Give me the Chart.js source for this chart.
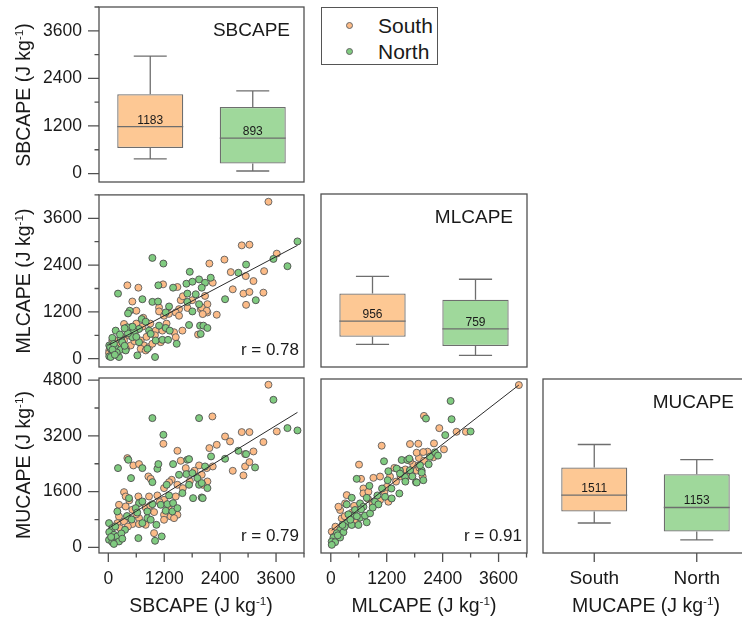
<!DOCTYPE html>
<html>
<head>
<meta charset="utf-8">
<script src="https://cdn.jsdelivr.net/npm/chart.js@4.4.0/dist/chart.umd.min.js"></script>
<style>
  html, body { margin: 0; padding: 0; background: #fff; overflow: hidden; }
  #wrap { position: relative; width: 742px; height: 622px; overflow: hidden;
          font-family: 'Liberation Sans', Arial, sans-serif; color: #1a1a1a; }
  #wrap canvas { position: absolute; }
  .ttl { position: absolute; white-space: nowrap; font-size: 19.5px; line-height: 1;
         transform: translate(-50%, -50%); }
  .ttl.v { transform: translate(-50%, -50%) rotate(-90deg); }
  .ttl sup { font-size: 0.6em; vertical-align: 0; position: relative; top: -0.62em; }
  .legend { position: absolute; left: 321px; top: 7px; width: 117px; height: 58px;
            border: 1.3px solid #555; box-sizing: border-box; }
  .legend .mk { position: absolute; width: 5px; height: 5px; border-radius: 50%;
                border: 0.8px solid #666; }
  .legend .lb { position: absolute; font-size: 21px; line-height: 1; transform: translateY(-50%); }
</style>
</head>
<body>
<div id="wrap">
  <canvas id="cSB" width="310" height="190" style="left:0;top:0"></canvas>
  <canvas id="cSBML" width="310" height="182" style="left:0;top:190px"></canvas>
  <canvas id="cSBMU" width="310" height="250" style="left:0;top:372px"></canvas>
  <canvas id="cML" width="220" height="182" style="left:315px;top:190px"></canvas>
  <canvas id="cMLMU" width="220" height="250" style="left:315px;top:372px"></canvas>
  <canvas id="cMU" width="220" height="250" style="left:537px;top:372px"></canvas>

  <div class="legend">
    <div class="mk" style="left:23.5px;top:13.5px;background:#FCBB87"></div>
    <div class="lb" style="left:56px;top:17px">South</div>
    <div class="mk" style="left:23.5px;top:39.5px;background:#80CB80"></div>
    <div class="lb" style="left:56px;top:43px">North</div>
  </div>

  <div class="ttl v" style="left:24px;top:95px">SBCAPE (J kg<sup>-1</sup>)</div>
  <div class="ttl v" style="left:24px;top:281px">MLCAPE (J kg<sup>-1</sup>)</div>
  <div class="ttl v" style="left:24px;top:465px">MUCAPE (J kg<sup>-1</sup>)</div>
  <div class="ttl" style="left:201px;top:606px">SBCAPE (J kg<sup>-1</sup>)</div>
  <div class="ttl" style="left:424px;top:606px">MLCAPE (J kg<sup>-1</sup>)</div>
  <div class="ttl" style="left:646px;top:606px">MUCAPE (J kg<sup>-1</sup>)</div>
</div>

<script>
// ---- groups ----
const groups = ['South', 'North'];

// ---- box statistics: [lower whisker, Q1, median, Q3, upper whisker] ----
const sbSouthBox = [370, 645, 1183, 2000, 2960];
const sbNorthBox = [65, 255, 893, 1680, 2085];
const mlSouthBox = [365, 560, 956, 1660, 2100];
const mlNorthBox = [85, 320, 759, 1505, 2025];
const muSouthBox = [705, 1035, 1511, 2305, 2970];
const muNorthBox = [220, 460, 1153, 2110, 2535];

// ---- SBCAPE vs MLCAPE ----
const sbMlSouth = [
  [409,1881],[645,1821],[1175,1906],[1483,1838],[516,1466],[1554,1500],[1089,1313],[1518,1271],
  [602,1229],[1089,1212],[1447,1186],[1196,1101],[1518,1101],[1984,1271],[337,890],[480,805],
  [588,720],[731,822],[444,593],[1017,720],[1160,720],[1411,678],[1590,720],[1926,619],[1447,551],
  [337,466],[158,466],[480,339],[695,466],[767,339],[874,297],[695,254],[946,382],[802,212],
  [1125,424],[86,466],[20,212],[15,144],
  [3437,4024],[2864,2906],[3029,2923],[3616,2694],[2169,2440],[2492,2541],[2628,2220],[2950,2118],
  [3115,1991],[3344,2245],[2671,1779],[2900,1669],[3029,1711],[3329,1694],[2957,1381],[2327,1127],
  [2127,1398],[2127,1186],[2241,1948],[2076,1610],[2005,1313],[2112,1229],[2026,1144],
  [200,330],[280,560],[560,450],[600,900],[820,560],[900,900],[1000,600],[1250,900],[1300,1150],
  [1700,1300],[1800,1500],[1600,1600],[750,1050],[380,250]
];
const sbMlNorth = [
  [946,2584],[1182,2440],[1748,2228],[1074,1881],[1390,1821],[1676,1923],[1805,1974],[1948,2033],
  [1697,1669],[1876,1652],[208,1669],[731,1525],[946,1457],[1067,1466],[1304,1339],[459,1229],
  [423,1161],[1232,1186],[1805,1212],[1948,1398],[1697,1457],[716,1017],[802,949],[409,805],
  [659,763],[874,720],[552,704],[158,720],[86,534],[265,509],[516,551],[1089,847],[1232,788],
  [1318,720],[910,636],[1017,466],[1160,483],[1282,483],[1468,382],[1733,864],[1969,847],[20,339],
  [51,254],[158,280],[265,229],[373,212],[86,127],[194,85],[20,60],[51,43],[229,43],[838,254],
  [623,85],[1003,43],[659,424],
  [4060,3007],[3845,2372],[3544,2558],[2957,2414],[2792,2203],[2506,1525],[3165,1500],[2198,2076],
  [2076,1948],[2005,1821],[2041,847],[2127,788],[1983,636],
  [40,300],[120,380],[180,160],[300,420],[350,330],[90,230],[140,100],[420,650],[520,820],
  [600,560],[350,780],[250,620]
];
const sbMlFit = [[0,344],[4060,2906]];

// ---- SBCAPE vs MUCAPE ----
const sbMuSouth = [
  [1182,2973],[1483,2772],[409,2562],[537,2352],[659,2390],[860,2036],[910,1969],[1361,1940],
  [1554,2485],[1662,2275],[1948,2352],[1304,1873],[1196,1701],[1483,1797],[337,1586],[373,1462],
  [645,1462],[874,1462],[1053,1491],[1447,1462],[1196,1366],[229,1223],[373,1175],[516,1080],
  [802,1146],[982,1013],[1196,936],[1340,888],[1483,936],[229,888],[444,840],[659,840],[194,697],
  [337,745],[516,669],[659,669],[802,649],[1196,793],[1411,840],[982,410],
  [3437,4666],[2234,3757],[2864,3308],[3029,3308],[3616,3327],[2506,3183],[2613,3040],[2327,2944],
  [2169,2849],[3115,2753],[2936,2677],[3329,3022],[2936,2323],[3029,2447],[2671,2198],[2900,2065],
  [2241,2323],[2112,2275],[2005,2084],[2127,1892],[2026,1797],
  [250,550],[420,600],[600,950],[900,1200],[1100,1300],[700,1300],[1300,1100],[1600,1700],
  [1750,1900],[1850,2200],[450,1350]
];
const sbMuNorth = [
  [946,3709],[1948,3709],[1182,3231],[208,2275],[430,2514],[731,2275],[1053,2256],[1074,2390],
  [1390,2390],[1697,2514],[1733,2533],[487,1988],[946,1873],[1253,1797],[1518,2084],[1676,2103],
  [1805,2131],[1912,1988],[1948,1797],[1733,1797],[444,1414],[1304,1491],[1590,1558],[1819,1414],
  [2005,1433],[659,1271],[731,1319],[588,1127],[838,1032],[946,1242],[1125,1223],[1268,1242],
  [1390,1271],[1232,1051],[1375,1032],[1483,1127],[194,1032],[838,840],[910,793],[1032,649],
  [15,697],[86,554],[358,506],[20,439],[122,362],[194,315],[15,219],[86,152],[229,171],[645,267],
  [1003,190],[1146,315],[731,697],
  [3544,4235],[3845,3423],[4060,3356],[2792,2772],[2957,2677],[3150,2294],[2506,2543],[2205,2610],
  [2076,2323],[2005,1845],[2127,1701],[2026,1414],
  [60,300],[150,600],[280,400],[400,900],[500,800],[620,1000],[120,100],[300,250]
];
const sbMuFit = [[0,545],[4060,3874]];

// ---- MLCAPE vs MUCAPE ----
const mlMuSouth = [
  [4035,4685],[1999,3796],[2328,3442],[2699,3337],[2899,3337],[2214,3002],[2428,2830],[2078,2763],
  [1892,2581],[1699,2983],[1092,2935],[606,2390],[649,1979],[914,2008],[1057,2046],[1364,2295],
  [1271,2046],[1971,2046],[700,1701],[342,1510],[307,1271],[200,1080],[700,1558],[807,1606],
  [1057,1366],[164,1175],[235,840],[557,745],[1236,1319],[21,458],[71,315],[1878,2992],[1843,2734],
  [1985,2753],[1771,2390],[1878,2362],[1628,2046],[1842,2218],[450,1000],[900,1250],[1150,1600],
  [1500,2050],[600,1150],[380,700],[100,600],[250,500],[1600,2250],
  [1400,1900],[1700,2500],[2000,2500],[2200,2600],[1200,1750],[800,1400],[500,1200],[300,900],[1900,2300]
];
const mlMuNorth = [
  [2571,4226],[2042,3719],[2592,3700],[3000,3346],[2456,3241],[2235,2744],[2128,2620],[1142,2486],
  [556,1979],[1235,2199],[1521,2524],[1642,2524],[1485,2218],[1699,2218],[1828,1883],[1950,2218],
  [828,1778],[1221,1940],[450,1433],[342,1242],[771,1433],[950,1319],[1021,1242],[628,1271],
  [700,1175],[521,1080],[485,917],[628,860],[735,917],[843,984],[378,955],[342,697],[450,649],
  [593,649],[771,726],[1164,1462],[1307,1414],[1471,1558],[200,506],[128,410],[271,439],[57,286],
  [20,171],[93,152],[21,75],[200,286],[1414,2275],[1685,2562],[1700,2227],[1914,2371],[1950,2160],
  [1592,2036],[1485,2131],[1985,1940],[1843,1873],[150,350],[300,600],[420,800],[560,900],[900,1150],
  [1100,1700],[1300,1700],[1600,1900],[1750,2050],[2100,2400],[2300,2650],[1000,1500],[650,1100],[250,650]
];
const mlMuFit = [[20,495],[4035,4685]];

// ---- styling ----
const FONT = "'Liberation Sans', Arial, sans-serif";
const INK = '#1a1a1a';
const FRAME = '#505050';
const SOUTH_PT = '#FCBB87', NORTH_PT = '#80CB80';
const SOUTH_BOX = '#FDC894', NORTH_BOX = '#9FD89B';

// Frame, tick marks, whiskers and panel annotations
const panelPlugin = {
  id: 'panel',
  afterDatasetsDraw(chart, args, o) {
    const ctx = chart.ctx, a = chart.chartArea;
    ctx.save();
    if (o.boxes) {
      const meta = chart.getDatasetMeta(0);
      const ys = chart.scales.y;
      o.boxes.forEach((st, i) => {
        const bar = meta.data[i];
        const cx = bar.x, hw = bar.width / 2, cw = hw / 2;
        const p = st.map(v => ys.getPixelForValue(v));
        ctx.strokeStyle = '#6e6e6e';
        ctx.lineWidth = 1.3;
        ctx.beginPath();
        ctx.moveTo(cx, p[3]); ctx.lineTo(cx, p[4]);
        ctx.moveTo(cx - cw, p[4]); ctx.lineTo(cx + cw, p[4]);
        ctx.moveTo(cx, p[1]); ctx.lineTo(cx, p[0]);
        ctx.moveTo(cx - cw, p[0]); ctx.lineTo(cx + cw, p[0]);
        ctx.moveTo(cx - hw, p[2]); ctx.lineTo(cx + hw, p[2]);
        ctx.stroke();
        ctx.fillStyle = INK;
        ctx.font = '12px ' + FONT;
        ctx.textAlign = 'center';
        ctx.textBaseline = 'alphabetic';
        ctx.fillText(String(st[2]), cx, p[2] - 3);
      });
    }
    ctx.strokeStyle = FRAME;
    ctx.lineWidth = 1.3;
    ctx.strokeRect(a.left, a.top, a.right - a.left, a.bottom - a.top);
    (o.ticks || []).forEach(t => {
      const sc = chart.scales[t.axis];
      const vals = [];
      if (t.categories) {
        t.categories.forEach((c, i) => vals.push([i, true]));
      } else {
        for (let v = 0; v <= sc.max; v += t.step) vals.push([v, Math.round(v / t.step) % 2 === 0]);
      }
      ctx.beginPath();
      vals.forEach(([v, major]) => {
        const len = major ? t.len : 4.5;
        const px = sc.getPixelForValue(v);
        if (t.axis === 'y') { ctx.moveTo(a.left, px); ctx.lineTo(a.left - len, px); }
        else { ctx.moveTo(px, a.bottom); ctx.lineTo(px, a.bottom + len); }
      });
      ctx.stroke();
    });
    ctx.fillStyle = INK;
    if (o.title) {
      ctx.font = '19px ' + FONT;
      ctx.textAlign = 'right';
      ctx.textBaseline = 'middle';
      ctx.fillText(o.title, a.right - 14, a.top + 24);
    }
    if (o.r) {
      ctx.font = '17px ' + FONT;
      ctx.textAlign = 'right';
      ctx.textBaseline = 'middle';
      ctx.fillText(o.r, a.right - 5, a.bottom - 17);
    }
    ctx.restore();
  }
};
Chart.register(panelPlugin);

// Fixed axis thickness, with no extra room reserved for end labels
function fixWidth(w) {
  return s => { s.width = w; s.paddingTop = 0; s.paddingBottom = 0; s.paddingLeft = 0; s.paddingRight = 0; };
}
function fixHeight(h) {
  return s => { s.height = h; s.paddingTop = 0; s.paddingBottom = 0; s.paddingLeft = 0; s.paddingRight = 0; };
}

// Linear axis labelled at 0, step, 2*step ... up to max
function linAxis(min, max, labelStep, pad, fit) {
  return {
    type: 'linear', min: min, max: max,
    grid: { display: false, drawTicks: false },
    border: { display: false },
    afterBuildTicks: scale => {
      const t = [];
      for (let v = 0; v <= max; v += labelStep) t.push({ value: v });
      scale.ticks = t;
    },
    ticks: {
      autoSkip: false, maxRotation: 0, padding: pad,
      color: INK, font: { family: FONT, size: 17.5 },
      callback: v => String(v)
    },
    afterFit: fit
  };
}

const base = {
  responsive: false, animation: false, events: [],
  plugins: { legend: { display: false }, tooltip: { enabled: false } }
};

function boxChart(id, south, north, yMin, yMax, opt) {
  return new Chart(document.getElementById(id), {
    type: 'bar',
    data: {
      labels: groups,
      datasets: [{
        data: [[south[1], south[3]], [north[1], north[3]]],
        backgroundColor: [SOUTH_BOX, NORTH_BOX],
        borderColor: '#6e6e6e', borderWidth: 1.3, borderSkipped: false,
        barPercentage: 0.644, categoryPercentage: 1
      }]
    },
    options: Object.assign({}, base, {
      layout: { padding: opt.padding },
      scales: {
        x: opt.showX ? {
          type: 'category', offset: true,
          grid: { display: false, drawTicks: false }, border: { display: false },
          ticks: { color: INK, font: { family: FONT, size: 19 }, padding: 14, maxRotation: 0 },
          afterFit: fixHeight(69)
        } : { type: 'category', offset: true, display: false },
        y: opt.yAxis ? opt.yAxis : { type: 'linear', min: yMin, max: yMax, display: false }
      },
      plugins: Object.assign({}, base.plugins, {
        panel: { boxes: [south, north], title: opt.title, ticks: opt.ticks || [] }
      })
    })
  });
}

function pts(arr) { return arr.map(([x, y]) => ({ x, y })); }

function scatterChart(id, south, north, fit, opt) {
  return new Chart(document.getElementById(id), {
    type: 'scatter',
    data: {
      datasets: [
        { data: pts(fit), showLine: true, borderColor: '#2b2b2b', borderWidth: 1, pointRadius: 0, fill: false },
        { label: 'North', data: pts(north), backgroundColor: NORTH_PT, borderColor: '#4d4d4d', borderWidth: 0.9, pointRadius: 3.5 },
        { label: 'South', data: pts(south), backgroundColor: SOUTH_PT, borderColor: '#5e5e5e', borderWidth: 0.9, pointRadius: 3.5 }
      ]
    },
    options: Object.assign({}, base, {
      layout: { padding: opt.padding },
      scales: { x: opt.x, y: opt.y },
      plugins: Object.assign({}, base.plugins, {
        panel: { r: opt.r, ticks: opt.ticks }
      })
    })
  });
}

// SBCAPE box panel
boxChart('cSB', sbSouthBox, sbNorthBox, -213, 4200, {
  padding: { top: 7, right: 6, bottom: 8, left: 0 },
  title: 'SBCAPE',
  yAxis: linAxis(-213, 4200, 1200, 17, fixWidth(99)),
  ticks: [{ axis: 'y', step: 600, len: 11 }]
});

// MLCAPE box panel
boxChart('cML', mlSouthBox, mlNorthBox, -213, 4200, {
  padding: { top: 4, right: 8, bottom: 5, left: 6 },
  title: 'MLCAPE'
});

// MUCAPE box panel
boxChart('cMU', muSouthBox, muNorthBox, -160, 4860, {
  padding: { top: 7, right: 9, bottom: 0, left: 6 },
  title: 'MUCAPE', showX: true,
  ticks: [{ axis: 'x', categories: groups, len: 9 }]
});

// SBCAPE vs MLCAPE
scatterChart('cSBML', sbMlSouth, sbMlNorth, sbMlFit, {
  padding: { top: 4, right: 6, bottom: 5, left: 0 },
  x: { type: 'linear', min: -200, max: 4200, display: false },
  y: linAxis(-213, 4200, 1200, 17, fixWidth(99)),
  r: 'r = 0.78',
  ticks: [{ axis: 'y', step: 600, len: 11 }]
});

// SBCAPE vs MUCAPE
scatterChart('cSBMU', sbMuSouth, sbMuNorth, sbMuFit, {
  padding: { top: 6, right: 6, bottom: 0, left: 0 },
  x: linAxis(-200, 4200, 1200, 16, fixHeight(69)),
  y: linAxis(-160, 4860, 1600, 17, fixWidth(99)),
  r: 'r = 0.79',
  ticks: [{ axis: 'y', step: 800, len: 11 }, { axis: 'x', step: 600, len: 9 }]
});

// MLCAPE vs MUCAPE
scatterChart('cMLMU', mlMuSouth, mlMuNorth, mlMuFit, {
  padding: { top: 7, right: 8, bottom: 0, left: 6 },
  x: linAxis(-210, 4210, 1200, 16, fixHeight(69)),
  y: { type: 'linear', min: -160, max: 4860, display: false },
  r: 'r = 0.91',
  ticks: [{ axis: 'x', step: 600, len: 9 }]
});
</script>
</body>
</html>
